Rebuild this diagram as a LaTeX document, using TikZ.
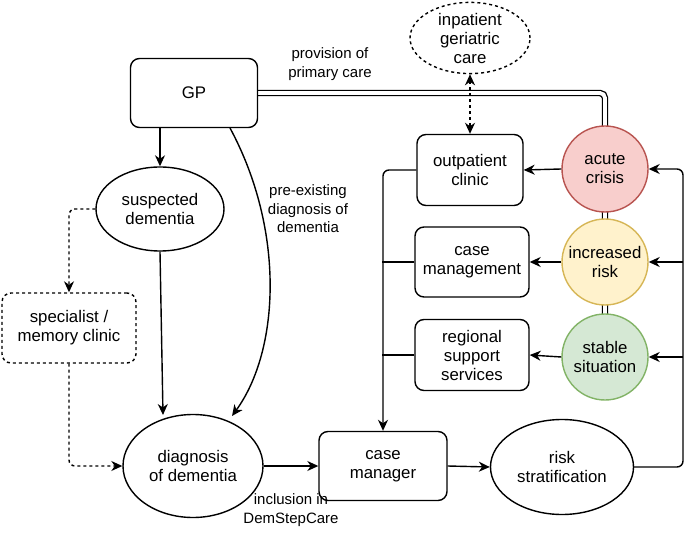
\documentclass[tikz,border=0pt]{standalone}
\usepackage{fontspec}
\setmainfont{Liberation Sans}
\usetikzlibrary{shapes.geometric,arrows.meta}
\definecolor{redfill}{HTML}{F8CECC}\definecolor{reddraw}{HTML}{B85450}
\definecolor{yelfill}{HTML}{FFF2CC}\definecolor{yeldraw}{HTML}{D6B656}
\definecolor{grnfill}{HTML}{D5E8D4}\definecolor{grndraw}{HTML}{82B366}
\tikzset{
  every node/.style={font=\fontsize{16.8}{19}\selectfont, align=center, inner sep=0pt},
  box/.style={draw, line width=1.4pt, rounded corners=9pt, fill=white},
  oval/.style={draw, ellipse, line width=1.4pt, fill=white},
  riskc/.style={circle, line width=1.4pt, minimum size=86pt},
  tip/.tip={Stealth[length=11pt,width=10pt,inset=3.5pt]},
  conn/.style={line width=1.4pt, -tip, rounded corners=6pt},
  plain/.style={line width=1.4pt, rounded corners=6pt},
  lbl/.style={font=\fontsize{15}{18.5}\selectfont},
}
\begin{document}
\begin{tikzpicture}[x=1pt,y=-1pt]
\useasboundingbox (0,0) rectangle (685,537);
% double line behind
\coordinate (dl1) at (605,93);
\coordinate (dl2) at (605,357);
\draw[line width=1.3pt, double=white, double distance=3.8pt, rounded corners=5pt] (258,93) -- (dl1) -- (dl2);
% nodes
\node[box, minimum width=127pt, minimum height=69pt] (gp) at (194,93) {GP};
\node[oval, dashed, minimum width=120pt, minimum height=70pt] (inp) at (470,38) {inpatient\\geriatric\\care};
\node[oval, minimum width=128pt, minimum height=84pt] (susp) at (160,209) {suspected\\dementia};
\node[box, dashed, minimum width=134pt, minimum height=70pt] (spec) at (69,328) {specialist /\\memory clinic};
\node[oval, minimum width=140pt, minimum height=103pt] (diag) at (193,466) {diagnosis\\of dementia};
\node[box, minimum width=128pt, minimum height=69pt] (cm) at (383,466) {case\\manager};
\node[oval, minimum width=143pt, minimum height=95pt] (risk) at (562,467) {risk\\stratification};
\node[box, minimum width=106pt, minimum height=71pt] (out) at (470,170) {outpatient\\clinic};
\node[box, minimum width=114pt, minimum height=70pt] (cmg) at (472,262) {case\\management};
\node[box, minimum width=114pt, minimum height=71pt] (reg) at (472,355) {regional\\support\\services};
\node[riskc, draw=reddraw, fill=redfill] (acute) at (605,169) {acute\\crisis};
\node[riskc, draw=yeldraw, fill=yelfill] (incr) at (605,262) {increased\\risk};
\node[riskc, draw=grndraw, fill=grnfill] (stab) at (605,357) {stable\\situation};
% labels
\node[lbl] (lprov) at (330,64) {provision of\\primary care};
\node[lbl] (lpre) at (308,209) {pre-existing\\diagnosis of\\dementia};
\node[lbl] (lincl) at (291,510) {inclusion in\\DemStepCare};
% connectors
\draw[conn] (gp.south -| susp.north) -- (susp.north);
\draw[conn] (230,128) .. controls (285,230) and (280,350) .. (232,416);
\draw[conn] (susp.south) -- (163,415);
\draw[conn, dashed] (susp.west) -| (spec.north);
\draw[conn, dashed] (spec.south) |- (diag.west);
\draw[conn, dashed, tip-tip] (inp.south) -- (out.north);
\draw[conn] (diag.east) -- (cm.west);
\draw[conn] (cm.east) -- (risk.west);
\draw[conn] (acute.west) -- (out.east);
\draw[conn] (incr.west) -- (cmg.east);
\draw[conn] (stab.west) -- (reg.east);
\coordinate (lx) at (382,0);
\coordinate (rx) at (683,0);
\draw[conn] (out.west) -| (cm.north);
\draw[plain] (cmg.west) -- (cmg.west -| lx);
\draw[plain] (reg.west) -- (reg.west -| lx);
\draw[conn] (risk.east) -- (risk.east -| rx) |- (acute.east);
\draw[conn] (incr.east -| rx) -- (incr.east);
\draw[conn] (stab.east -| rx) -- (stab.east);
\end{tikzpicture}
\end{document}
